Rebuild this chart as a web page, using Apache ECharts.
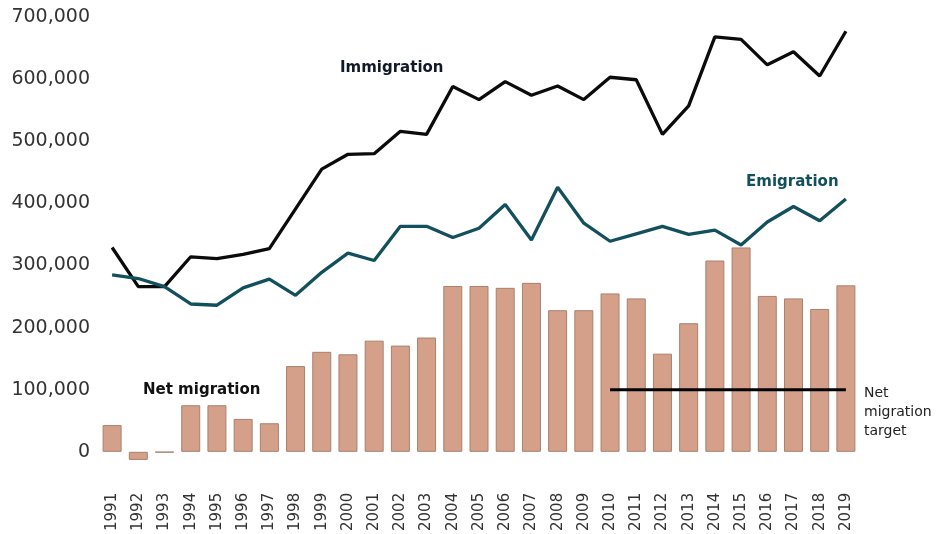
<!DOCTYPE html>
<html><head><meta charset="utf-8">
<script src="https://cdn.jsdelivr.net/npm/echarts@6/dist/echarts.min.js"></script>
<style>html,body{margin:0;padding:0;background:#fff}#c{width:936px;height:534px}</style>
</head><body><div id="c"></div>
<script>
const years = ['1991','1992','1993','1994','1995','1996','1997','1998','1999','2000','2001','2002','2003','2004','2005','2006','2007','2008','2009','2010','2011','2012','2013','2014','2015','2016','2017','2018','2019'];
const netMigration = [43000,-13000,-1000,75000,75000,53000,46000,138000,161000,157000,179000,171000,184000,267000,267000,264000,272000,228000,228000,255000,247000,158000,207000,308000,329000,251000,247000,230000,268000];
const immigration = [329000,266000,266000,314000,311000,318000,327000,391000,455000,479000,480000,516000,511000,588000,567000,596000,574000,589000,567000,603000,599000,511000,557000,668000,664000,623000,644000,605000,677000];
const emigration = [285000,279000,266000,238000,236000,264000,278000,252000,289000,320000,308000,363000,363000,345000,360000,398000,341000,426000,368000,339000,351000,363000,350000,357000,333000,370000,395000,372000,407000];
const targetValue = 100000;
const targetStart = '2010';
const yTicks = [0,100000,200000,300000,400000,500000,600000,700000];

const target = years.map(y => (+y >= +targetStart ? targetValue : null));
const chart = echarts.init(document.getElementById('c'));
chart.setOption({
  animation: false,
  backgroundColor: '#fff',
  grid: {left: 99, right: 77, top: 17, bottom: 82},
  xAxis: {
    type: 'category', data: years,
    axisLine: {show: false}, axisTick: {show: false},
    axisLabel: {rotate: 90, margin: 41, fontSize: 15, color: '#333', fontFamily: 'DejaVu Sans', interval: 0}
  },
  yAxis: {
    type: 'value', min: yTicks[0], max: yTicks[yTicks.length-1], interval: 100000,
    splitLine: {show: false}, axisLine: {show: false}, axisTick: {show: false},
    axisLabel: {margin: 9, fontSize: 19, color: '#333', fontFamily: 'DejaVu Sans',
      formatter: v => v.toLocaleString('en-US')}
  },
  series: [
    {type: 'bar', data: netMigration, barWidth: 19, clip: false,
     itemStyle: {color: '#d4a08a', borderColor: '#a9806c', borderWidth: 1}, z: 1},
    {type: 'line', data: immigration, symbol: 'none', lineStyle: {color: '#0b0b0b', width: 3.3}, z: 3},
    {type: 'line', data: emigration, symbol: 'none', lineStyle: {color: '#12505d', width: 3.3}, z: 3},
    {type: 'line', data: target, symbol: 'none', lineStyle: {color: '#000', width: 3}, z: 4}
  ],
  graphic: [
    {type: 'text', left: 340, top: 61, style: {text: 'Immigration', font: 'bold 15px "DejaVu Sans"', fill: '#111827'}},
    {type: 'text', left: 746, top: 175, style: {text: 'Emigration', font: 'bold 15px "DejaVu Sans"', fill: '#12505d'}},
    {type: 'text', left: 143, top: 383, style: {text: 'Net migration', font: 'bold 15px "DejaVu Sans"', fill: '#111'}},
    {type: 'text', left: 864, top: 384, style: {text: 'Net\nmigration\ntarget', font: '14px "DejaVu Sans"', fill: '#222', lineHeight: 19}}
  ]
});
</script></body></html>
